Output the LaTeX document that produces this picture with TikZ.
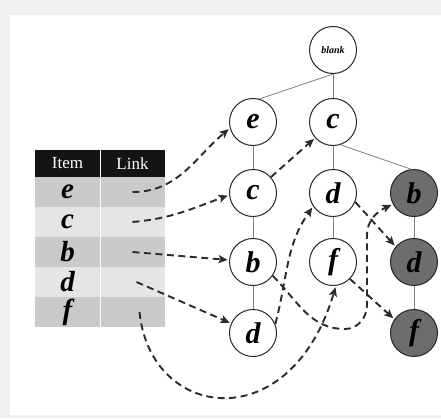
\documentclass[tikz,border=0pt]{standalone}
\usepackage{fontspec}
\setmainfont{Liberation Serif}
\usetikzlibrary{arrows.meta}
\definecolor{bgout}{HTML}{F0F0F0}
\definecolor{rowdark}{HTML}{C9CACC}
\definecolor{rowlight}{HTML}{E4E5E7}
\definecolor{nodegray}{HTML}{6D6D6D}
\definecolor{linkcol}{HTML}{2B2B2B}
\begin{document}
\begin{tikzpicture}[x=1pt,y=1pt,
  tn/.style={circle,draw=black!85,line width=1pt,fill=white,minimum size=47pt,inner sep=0pt,
    font=\fontsize{30}{32}\selectfont\bfseries\itshape},
  gn/.style={tn,fill=nodegray},
  edge/.style={draw=black!50,line width=0.8pt},
  lnk/.style={draw=linkcol,line width=1.9pt,dash pattern=on 7pt off 4.5pt,shorten >=1.5pt,
    -{Stealth[length=9pt,width=8pt,inset=2pt]}},
  hcell/.style={fill=black!92,text=white,minimum width=65pt,minimum height=27pt,inner sep=0pt,
    font=\fontsize{17}{18}\selectfont},
  cell/.style={minimum width=65pt,minimum height=30pt,inner sep=0pt,
    font=\fontsize{29}{30}\selectfont\bfseries\itshape},
  dk/.style={cell,fill=rowdark},
  lt/.style={cell,fill=rowlight}
]
\useasboundingbox (0,0) rectangle (441,-418);
\fill[bgout] (0,0) rectangle (441,-418);
\fill[white] (10,-15) rectangle (441,-415);

% table
\node[hcell] (hItem) at (67.5,-163.5) {Item};
\node[hcell] (hLink) at (132.5,-163.5) {Link};
\node[dk] (iE) at (67.5,-192) {e};
\node[dk] (lE) at (132.5,-192) {};
\node[lt] (iC) at (67.5,-222) {c};
\node[lt] (lC) at (132.5,-222) {};
\node[dk] (iB) at (67.5,-252) {b};
\node[dk] (lB) at (132.5,-252) {};
\node[lt] (iD) at (67.5,-282) {d};
\node[lt] (lD) at (132.5,-282) {};
\node[dk] (iF) at (67.5,-312) {f};
\node[dk] (lF) at (132.5,-312) {};
\draw[white,line width=1pt] (hItem.north east) -- (iF.south east);

% tree nodes
\node[tn,font=\fontsize{10}{10}\selectfont\bfseries\itshape] (blank) at (333,-50) {blank};
\node[tn] (e1) at (253,-122) {e};
\node[tn] (c2) at (333,-122) {c};
\node[tn] (c1) at (253,-193) {c};
\node[tn] (d2) at (333,-193) {d};
\node[gn] (bg) at (414,-193) {b};
\node[tn] (b1) at (253,-262) {b};
\node[tn] (f2) at (333,-262) {f};
\node[gn] (dg) at (414,-262) {d};
\node[tn] (d1) at (253,-333) {d};
\node[gn] (fg) at (414,-333) {f};

% tree edges
\draw[edge] (blank.south) -- (e1.74);
\draw[edge] (blank) -- (c2);
\draw[edge] (c2.-72) -- (bg.97);
\draw[edge] (e1) -- (c1);
\draw[edge] (c1) -- (b1);
\draw[edge] (b1) -- (d1);
\draw[edge] (c2) -- (d2);
\draw[edge] (d2) -- (f2);
\draw[edge] (bg) -- (dg);
\draw[edge] (dg) -- (fg);

% node links
\draw[lnk] (lE.center) to[out=0,in=220] (e1.195);
\draw[lnk] (lC.center) to[out=5,in=200] (c1.185);
\draw[lnk] (lB.center) -- (b1);
\draw[lnk] ([xshift=4pt]lD.center) -- (d1);
\draw[lnk] ([xshift=7pt]lF.center) .. controls (150,-420) and (290,-440) .. (f2.-83);
\draw[lnk] (c1) -- (c2);
\draw[lnk] (d1.22) to[out=75,in=235] (d2.214);
\draw[lnk] (b1.-35) to[out=-45,in=180] (345,-329) to[out=0,in=-90] (367,-305)
  -- (367,-235) to[out=90,in=205] (bg.208);
\draw[lnk] (d2.-22) -- (dg.140);
\draw[lnk] (f2.-45) -- (fg.145);
\end{tikzpicture}
\end{document}
